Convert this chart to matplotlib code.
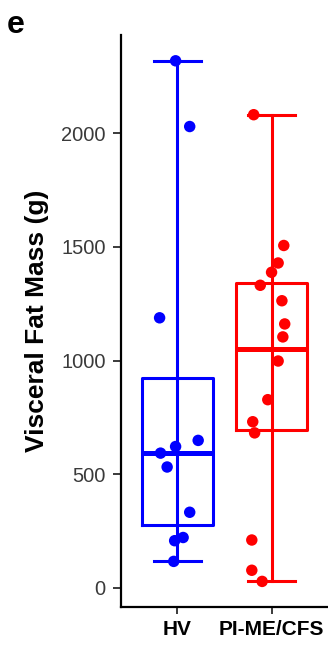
import matplotlib
matplotlib.use("Agg")
import matplotlib.pyplot as plt

plt.rcParams['font.family'] = ['Liberation Sans', 'DejaVu Sans']

# data
groups = ["HV", "PI-ME/CFS"]
colors = ["#0000ff", "#ff0000"]

hv_values = [2318, 2029, 1188, 649, 622, 593, 532, 333, 222, 208, 117]
hv_jitter = [-0.02, 0.13, -0.19, 0.22, -0.02, -0.18, -0.11, 0.13, 0.06, -0.03, -0.04]

pi_values = [2081, 1506, 1429, 1388, 1331, 1263, 1161, 1104, 998, 828,
             731, 682, 211, 78, 29]
pi_jitter = [-0.19, 0.13, 0.07, 0.0, -0.12, 0.11, 0.14, 0.12, 0.07, -0.04,
             -0.20, -0.18, -0.21, -0.21, -0.10]

# box summaries as drawn (q1, median, q3, whisker low, whisker high)
box_q1 = [276, 693]
box_med = [593, 1052]
box_q3 = [922, 1343]
box_low = [117, 29]
box_high = [2318, 2081]

yticks = [0, 500, 1000, 1500, 2000]

fig = plt.figure(figsize=(3.28, 6.5), dpi=100)
ax = fig.add_axes([0.369, 0.066, 0.631, 0.88])

positions = [1, 2]
for i, pos in enumerate(positions):
    c = colors[i]
    stats = [dict(q1=box_q1[i], med=box_med[i], q3=box_q3[i],
                  whislo=box_low[i], whishi=box_high[i], fliers=[])]
    ax.bxp(stats, positions=[pos], widths=0.75, showfliers=False,
           capwidths=0.5,
           boxprops=dict(color=c, linewidth=2.2),
           medianprops=dict(color=c, linewidth=3.6),
           whiskerprops=dict(color=c, linewidth=2.2),
           capprops=dict(color=c, linewidth=2.2))
    # line through the box
    ax.vlines(pos, box_q1[i], box_q3[i], color=c, linewidth=2.2)

ax.scatter([1 + j for j in hv_jitter], hv_values, s=68, color=colors[0],
           edgecolors='none', zorder=5)
ax.scatter([2 + j for j in pi_jitter], pi_values, s=68, color=colors[1],
           edgecolors='none', zorder=5)

ax.set_xlim(0.4, 2.6)
ax.set_ylim(-84, 2431)
ax.set_yticks(yticks)
ax.set_yticklabels([str(t) for t in yticks], fontsize=14.5, color='#3a3a3a')
ax.set_xticks(positions)
ax.set_xticklabels(groups, fontsize=15, fontweight='bold', color='black')
ax.tick_params(axis='y', length=6, width=1.4, color='#3a3a3a', pad=5)
ax.tick_params(axis='x', length=5, width=1.4, color='#3a3a3a', pad=4)

for s in ['top', 'right']:
    ax.spines[s].set_visible(False)
for s in ['left', 'bottom']:
    ax.spines[s].set_linewidth(1.6)
    ax.spines[s].set_color('black')

ax.set_ylabel("Visceral Fat Mass (g)", fontsize=19, fontweight='bold')
ax.yaxis.set_label_coords(-0.35, 0.5)

fig.text(0.02, 0.985, "e", fontsize=23, fontweight='bold', va='top', ha='left')

fig.savefig("out.png", dpi=100)
